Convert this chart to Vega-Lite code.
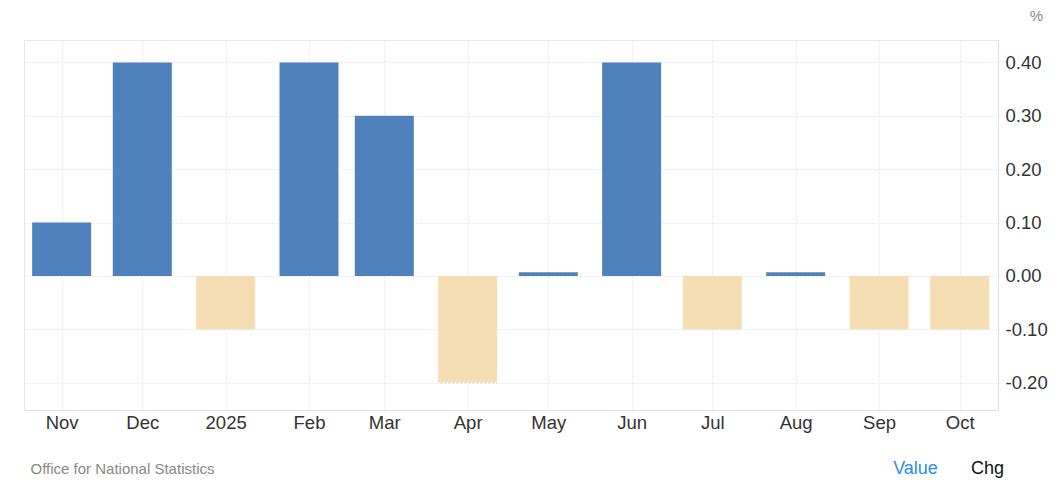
{
  "$schema": "https://vega.github.io/schema/vega-lite/v6.json",
  "width": 974,
  "height": 370,
  "autosize": {"type": "none"},
  "padding": {"left": 24, "top": 40, "right": 58, "bottom": 81},
  "background": "white",
  "config": {
    "font": "Liberation Sans",
    "view": {"stroke": "#e6e6e6", "strokeWidth": 1}
  },
  "data": {
    "values": [
      {"month": "2024-11-01", "value": 0.1},
      {"month": "2024-12-01", "value": 0.4},
      {"month": "2025-01-01", "value": -0.1},
      {"month": "2025-02-01", "value": 0.4},
      {"month": "2025-03-01", "value": 0.3},
      {"month": "2025-04-01", "value": -0.2},
      {"month": "2025-05-01", "value": 0.007},
      {"month": "2025-06-01", "value": 0.4},
      {"month": "2025-07-01", "value": -0.1},
      {"month": "2025-08-01", "value": 0.007},
      {"month": "2025-09-01", "value": -0.1},
      {"month": "2025-10-01", "value": -0.1}
    ]
  },
  "resolve": {"axis": {"y": "independent"}},
  "layer": [
    {
      "mark": {"type": "bar", "size": 59},
      "encoding": {
        "x": {
          "field": "month",
          "type": "temporal",
          "scale": {"type": "utc", "domain": ["2024-10-18T00:00:00Z", "2025-10-15T06:00:00Z"], "padding": 0, "nice": false},
          "axis": {
            "tickCount": {"interval": "month", "step": 1},
            "labelExpr": "utcmonth(datum.value) == 0 ? utcFormat(datum.value, '%Y') : utcFormat(datum.value, '%b')",
            "labelFontSize": 18.5,
            "labelColor": "#333333",
            "labelPadding": 3,
            "labelFlush": false,
            "labelOverlap": false,
            "ticks": false,
            "domainColor": "#e0e0e0",
            "grid": true,
            "gridColor": "#e6e6e6",
            "gridDash": [2, 2],
            "title": "Office for National Statistics",
            "titleFontSize": 15,
            "titleFontWeight": "normal",
            "titleColor": "#888888",
            "titleAlign": "left",
            "titleBaseline": "middle",
            "titleX": 6,
            "titleY": 58
          }
        },
        "y": {
          "field": "value",
          "type": "quantitative",
          "scale": {"domain": [-0.251, 0.442], "nice": false, "zero": false, "padding": 0},
          "axis": {
            "orient": "right",
            "values": [-0.2, -0.1, 0, 0.1, 0.2, 0.3, 0.4],
            "labelExpr": "replace(format(datum.value, '.2f'), '\u2212', '-')",
            "labelFontSize": 18.5,
            "labelColor": "#333333",
            "labelPadding": 7,
            "ticks": false,
            "domainColor": "#e0e0e0",
            "grid": true,
            "gridColor": "#e6e6e6",
            "gridDash": [2, 2],
            "title": "%",
            "titleAngle": 0,
            "titleFontSize": 15,
            "titleFontWeight": "normal",
            "titleColor": "#888888",
            "titleAlign": "center",
            "titleBaseline": "middle",
            "titleX": 38,
            "titleY": -25
          }
        },
        "color": {
          "condition": {"test": "datum.value < 0", "value": "#f5deb3"},
          "value": "#4f81bd"
        }
      }
    },
    {
      "mark": {"type": "rule", "opacity": 0},
      "encoding": {
        "y": {
          "datum": 0,
          "type": "quantitative",
          "axis": {
            "orient": "left",
            "labels": false,
            "ticks": false,
            "domain": false,
            "grid": false,
            "title": "Value",
            "titleAngle": 0,
            "titleFontSize": 18,
            "titleFontWeight": "normal",
            "titleColor": "#2a8ee8",
            "titleAlign": "center",
            "titleBaseline": "middle",
            "titleX": 891,
            "titleY": 428
          }
        }
      }
    },
    {
      "mark": {"type": "rule", "opacity": 0},
      "encoding": {
        "y": {
          "datum": 0,
          "type": "quantitative",
          "axis": {
            "orient": "left",
            "labels": false,
            "ticks": false,
            "domain": false,
            "grid": false,
            "title": "Chg",
            "titleAngle": 0,
            "titleFontSize": 18,
            "titleFontWeight": "normal",
            "titleColor": "#111111",
            "titleAlign": "center",
            "titleBaseline": "middle",
            "titleX": 963,
            "titleY": 428
          }
        }
      }
    }
  ]
}
